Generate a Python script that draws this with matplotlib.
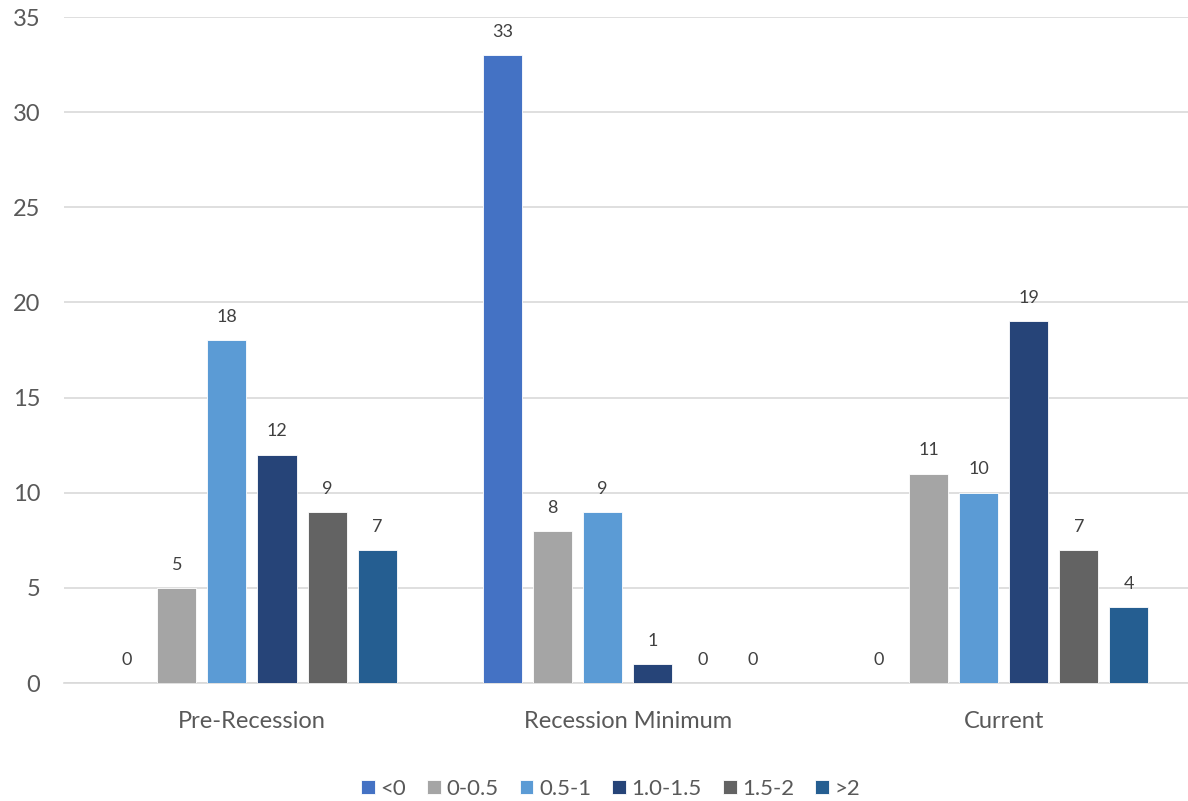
import matplotlib
matplotlib.use("Agg")
import matplotlib.pyplot as plt
import numpy as np

categories = ["Pre-Recession", "Recession Minimum", "Current"]
series_names = ["<0", "0-0.5", "0.5-1", "1.0-1.5", "1.5-2", ">2"]
values = {
    "<0": [0, 33, 0],
    "0-0.5": [5, 8, 11],
    "0.5-1": [18, 9, 10],
    "1.0-1.5": [12, 1, 19],
    "1.5-2": [9, 0, 7],
    ">2": [7, 0, 4],
}
colors = ["#4472C4", "#A5A5A5", "#5B9BD5", "#264478", "#636363", "#255E91"]
yticks = [0, 5, 10, 15, 20, 25, 30, 35]

plt.rcParams["font.family"] = ["Lato", "DejaVu Sans"]

text_color = "#595959"
fig = plt.figure(figsize=(11.88, 8.01), dpi=100)
ax = fig.add_axes([64 / 1188, (801 - 683) / 801, 1 - 64 / 1188 + 0.003, (683 - 17) / 801])

x = np.arange(len(categories))
step = 50 / 375
width = 39 / 375
for i, (name, col) in enumerate(zip(series_names, colors)):
    pos = x + (i - 2.5) * step
    ax.bar(pos, values[name], width, color=col, edgecolor="white", linewidth=0.6,
           label=name, zorder=3)
    for p, v in zip(pos, values[name]):
        ax.text(p, v + 0.8, str(v), ha="center", va="bottom", fontsize=13, color="#404040")

ax.set_xlim(-0.5, 2.5)
ax.set_ylim(0, 35)
ax.set_yticks(yticks)
ax.set_yticklabels([str(t) for t in yticks], fontsize=17, color=text_color)
ax.set_xticks(x)
ax.set_xticklabels(categories, fontsize=17, color=text_color)
ax.tick_params(axis="both", length=0)
ax.tick_params(axis="x", pad=20)
ax.tick_params(axis="y", pad=17)
ax.grid(axis="y", color="#D9D9D9", linewidth=1.2, zorder=0)
for s in ["top", "right", "left"]:
    ax.spines[s].set_visible(False)
ax.spines["bottom"].set_color("#D9D9D9")
ax.spines["bottom"].set_linewidth(1.2)

leg = fig.legend(loc="center", ncol=6, frameon=False,
                 fontsize=16, handlelength=0.62, handleheight=0.62, handletextpad=0.25,
                 columnspacing=0.95,
                 bbox_to_anchor=(0.514, (801 - 789) / 801), bbox_transform=fig.transFigure)
for t in leg.get_texts():
    t.set_color(text_color)

fig.savefig("out.png", dpi=100, facecolor="white")
